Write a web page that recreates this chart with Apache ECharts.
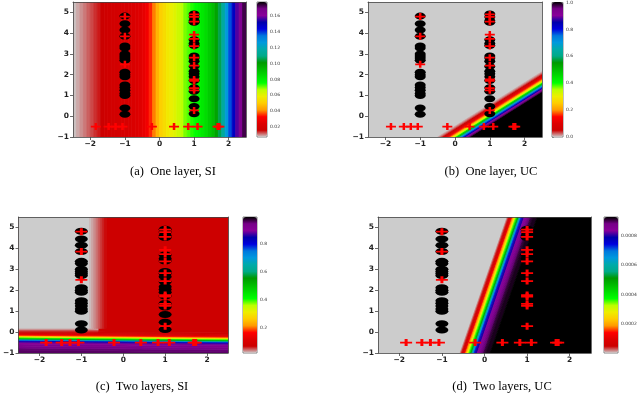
<!DOCTYPE html>
<html>
<head>
<meta charset="utf-8">
<script src="https://cdn.jsdelivr.net/npm/echarts@6.0.0/dist/echarts.min.js"></script>
<style>
  html, body { margin: 0; padding: 0; background: #fff; }
  #chart { width: 640px; height: 394px; }
</style>
</head>
<body>
<div id="chart"></div>
<script>
  // nipy_spectral, reversed: low values light gray, high values black
  const nipyR = ['#cccccc', '#cc0000', '#dd0000', '#ff0000', '#ff9900', '#ffcc00', '#eeee00',
    '#bbff00', '#00ff00', '#00dd00', '#00bb00', '#009900', '#00aa88', '#00aaaa', '#0099dd',
    '#0077dd', '#0000dd', '#0000aa', '#880099', '#770088', '#000000'];

  // training points, same in all four panels
  const circleLeftY = [4.82, 4.45, 4.15, 3.85, 3.38, 3.28, 3.0, 2.9, 2.8, 2.7, 2.12, 2.0, 1.9, 1.5, 1.38, 1.25, 1.1, 1.0, 0.4, 0.1];
  const circleRightY = [4.92, 4.78, 4.6, 4.52, 3.68, 3.5, 3.4, 2.9, 2.8, 2.65, 2.4, 2.17, 2.04, 1.9, 1.72, 1.37, 1.2, 0.84, 0.47, 0.12];
  const plusLeftY = [4.8, 3.85, 2.5];
  const plusRightY = [4.9, 4.78, 4.55, 3.93, 3.73, 3.38, 2.82, 2.44, 1.77, 1.7, 1.35, 1.25, 0.28];
  const plusBottomX = [-1.84, -1.47, -1.27, -1.07, -0.22, 0.42, 0.83, 1.1, 1.68, 1.73];

  const xTicks = [-2, -1, 0, 1, 2];
  const yTicks = [-1, 0, 1, 2, 3, 4, 5];

  // (a) one layer, SI: value changes with x only
  const siOneEdges = [-2.5, -2.4, -2.3, -2.2, -2.1, -2.0, -1.9, -1.8, -1.7, -1.6, -1.5, -1.4, -1.3, -1.2, -1.1,
    -1.0, -0.9, -0.8, -0.7, -0.6, -0.5, -0.4, -0.3, -0.2, -0.1, 0.0, 0.1, 0.2, 0.3, 0.4, 0.5, 0.6, 0.7,
    0.8, 0.9, 1.0, 1.1, 1.2, 1.3, 1.4, 1.5, 1.6, 1.7, 1.8, 1.9, 2.0, 2.1, 2.2, 2.3, 2.4, 2.5];
  const siOneValues = [0.008, 0.009, 0.010, 0.011, 0.012, 0.013, 0.014, 0.015, 0.016, 0.017,
    0.018, 0.019, 0.019, 0.020, 0.021, 0.021, 0.022, 0.023, 0.024, 0.025,
    0.027, 0.030, 0.035, 0.040, 0.046, 0.051, 0.054, 0.057, 0.059, 0.061,
    0.064, 0.067, 0.070, 0.072, 0.074, 0.076, 0.078, 0.081, 0.084, 0.088,
    0.092, 0.098, 0.106, 0.115, 0.126, 0.138, 0.148, 0.157, 0.165, 0.173];
  const siOneRange = [0.0075, 0.1775];
  const siOneTicks = [0.02, 0.04, 0.06, 0.08, 0.10, 0.12, 0.14, 0.16];

  // (b) one layer, UC: value changes across the line y = 1.05 x - 0.94
  const ucOneLine = [1.05, -0.94];
  const ucOneEdges = [-99, -0.5, -0.45, -0.4, -0.35, -0.3, -0.25, -0.2, -0.15, -0.1, -0.05, 0,
    0.05, 0.1, 0.15, 0.2, 0.25, 0.3, 0.35, 0.4, 0.45, 0.5, 99];
  const ucOneValues = [1.0, 0.97, 0.94, 0.9, 0.85, 0.78, 0.7, 0.6, 0.5, 0.42, 0.34, 0.28,
    0.22, 0.17, 0.13, 0.09, 0.065, 0.05, 0.035, 0.02, 0.01, 0.0];
  const ucOneRange = [0, 1];
  const ucOneTicks = [0, 0.2, 0.4, 0.6, 0.8, 1.0];

  // (c) two layers, SI: band across y = -0.018 x - 0.255, gray block at upper left
  const siTwoLine = [-0.018, -0.255];
  const siTwoEdges = [-99, -0.65, -0.55, -0.45, -0.36, -0.28, -0.22, -0.18, -0.15, -0.12, -0.09,
    -0.06, -0.03, 0, 0.03, 0.06, 0.1, 0.15, 0.2, 0.25, 99];
  const siTwoValues = [0.955, 0.95, 0.94, 0.925, 0.9, 0.87, 0.82, 0.75, 0.66, 0.56,
    0.47, 0.4, 0.33, 0.28, 0.22, 0.17, 0.12, 0.09, 0.075, 0.07];
  const siTwoGrayEdges = [-2.5, -0.8, -0.75, -0.7, -0.65, -0.6, -0.55, -0.5, -0.45, -0.4];
  const siTwoGrayValues = [0.02, 0.024, 0.029, 0.035, 0.041, 0.047, 0.054, 0.06, 0.066];
  const siTwoFloorEdges = [0.0, 0.06, 0.12, 0.18];
  const siTwoFloorValues = [0.062, 0.048, 0.032];
  const siTwoRange = [0.02, 0.99];
  const siTwoTicks = [0.2, 0.4, 0.6, 0.8];

  // (d) two layers, UC: value changes across the line x = 0.17 y - 0.2
  const ucTwoLine = [0.17, -0.2];
  const ucTwoEdges = [-99, -0.2, -0.175, -0.15, -0.125, -0.1, -0.075, -0.05, -0.025, 0, 0.025, 0.05,
    0.075, 0.1, 0.125, 0.15, 0.2, 0.25, 0.3, 0.35, 0.4, 0.5, 99];
  const ucTwoValues = [0, 0.00002, 0.00004, 0.00006, 0.00008, 0.00012, 0.00018, 0.00023, 0.00028, 0.00035,
    0.00042, 0.0005, 0.00058, 0.00066, 0.00073, 0.0008, 0.00084, 0.00087, 0.00089, 0.00091, 0.00092, 0.00093];
  const ucTwoRange = [0, 0.00093];
  const ucTwoTicks = [0.0002, 0.0004, 0.0006, 0.0008];

  function bands(edges, values, kind) {
    return values.map((v, k) => [edges[k], edges[k + 1], v, kind || 0]);
  }

  const panels = [
    {
      caption: '(a)  One layer, SI', cap: [173, 172],
      plot: [73, 2, 173, 135], bar: [257, 2, 10, 135],
      range: siOneRange, ticks: siOneTicks, digits: 2,
      circle: [11, 7], plus: [10, 7],
      data: bands(siOneEdges, siOneValues),
      corners: (u0, u1) => [[u0, -1], [u1, -1], [u1, 5.5], [u0, 5.5]]
    },
    {
      caption: '(b)  One layer, UC', cap: [491, 172],
      plot: [368, 2, 174, 135], bar: [552, 2, 11, 135],
      range: ucOneRange, ticks: ucOneTicks, digits: 1,
      circle: [11, 7], plus: [10, 7],
      data: bands(ucOneEdges, ucOneValues),
      corners: (u0, u1) => {
        const [m, c] = ucOneLine;
        return [[-2.5, -2.5 * m + c + u0], [2.5, 2.5 * m + c + u0], [2.5, 2.5 * m + c + u1], [-2.5, -2.5 * m + c + u1]];
      }
    },
    {
      caption: '(c)  Two layers, SI', cap: [142, 387],
      plot: [17, 217, 211, 136], bar: [243, 217, 14, 136],
      range: siTwoRange, ticks: siTwoTicks, digits: 1,
      circle: [13, 7], plus: [12, 7],
      data: bands(siTwoEdges, siTwoValues, 0)
        .concat(bands(siTwoFloorEdges, siTwoFloorValues, 2))
        .concat(bands(siTwoGrayEdges, siTwoGrayValues, 1)),
      corners: (u0, u1, kind) => {
        if (kind === 1) {
          const yb = siTwoFloorEdges[siTwoFloorEdges.length - 1];
          return [[u0, yb], [u1, yb], [u1, 5.5], [u0, 5.5]];
        }
        if (kind === 2) {
          return [[-2.5, u0], [-0.6, u0], [-0.6, u1], [-2.5, u1]];
        }
        const [m, c] = siTwoLine;
        return [[-2.5, -2.5 * m + c + u0], [2.5, 2.5 * m + c + u0], [2.5, 2.5 * m + c + u1], [-2.5, -2.5 * m + c + u1]];
      }
    },
    {
      caption: '(d)  Two layers, UC', cap: [502, 387],
      plot: [378, 217, 213, 136], bar: [604, 217, 14, 136],
      range: ucTwoRange, ticks: ucTwoTicks, digits: 4,
      circle: [13, 7], plus: [12, 7],
      data: bands(ucTwoEdges, ucTwoValues),
      corners: (u0, u1) => {
        const [m, c] = ucTwoLine;
        return [[-1 * m + c + u0, -1], [5.5 * m + c + u0, 5.5], [5.5 * m + c + u1, 5.5], [-1 * m + c + u1, -1]];
      }
    }
  ];

  const plusPath = 'path://M0,3H3V0H5V3H8V5H5V8H3V5H0Z';
  const minus = v => String(v).replace('-', '\u2212');
  const frame = {onZero: false, lineStyle: {color: '#444', width: 0.8}};
  const tickFont = {fontSize: 7.5, fontWeight: 'bold', fontFamily: 'DejaVu Sans', color: '#222'};

  const grids = [], xAxes = [], yAxes = [], series = [], visualMaps = [], graphics = [];

  panels.forEach((p, i) => {
    // main plot
    const g = grids.length;
    grids.push({left: p.plot[0], top: p.plot[1], width: p.plot[2], height: p.plot[3]});
    const xi = xAxes.length;
    xAxes.push({
      gridIndex: g, type: 'value', min: -2.5, max: 2.5, z: 10,
      axisLine: frame,
      axisTick: {customValues: xTicks, length: 3, lineStyle: {color: '#444', width: 0.8}},
      axisLabel: Object.assign({customValues: xTicks, formatter: minus, margin: 3}, tickFont),
      splitLine: {show: false}
    });
    xAxes.push({
      gridIndex: g, type: 'value', position: 'top', min: -2.5, max: 2.5, z: 10,
      axisLine: frame, axisTick: {show: false}, axisLabel: {show: false}, splitLine: {show: false}
    });
    const yi = yAxes.length;
    yAxes.push({
      gridIndex: g, type: 'value', min: -1, max: 5.5, z: 10,
      axisLine: frame,
      axisTick: {customValues: yTicks, length: 3, lineStyle: {color: '#444', width: 0.8}},
      axisLabel: Object.assign({customValues: yTicks, formatter: minus, margin: 4}, tickFont),
      splitLine: {show: false}
    });
    yAxes.push({
      gridIndex: g, type: 'value', position: 'right', min: -1, max: 5.5, z: 10,
      axisLine: frame, axisTick: {show: false}, axisLabel: {show: false}, splitLine: {show: false}
    });

    // colorbar axis
    const cg = grids.length;
    grids.push({left: p.bar[0], top: p.bar[1], width: p.bar[2], height: p.bar[3],
      show: true, borderColor: '#666', borderWidth: 0.8});
    xAxes.push({gridIndex: cg, type: 'value', show: false, min: 0, max: 1});
    yAxes.push({
      gridIndex: cg, type: 'value', position: 'right', min: p.range[0], max: p.range[1],
      axisLine: {show: false},
      axisTick: {customValues: p.ticks, length: 2, lineStyle: {color: '#555', width: 0.5}},
      axisLabel: {customValues: p.ticks, formatter: v => v.toFixed(p.digits), fontSize: 4.5,
        fontFamily: 'DejaVu Sans', color: '#333', margin: 3},
      splitLine: {show: false}
    });

    // decision field
    const si = series.length;
    series.push({
      type: 'custom', xAxisIndex: xi, yAxisIndex: yi, clip: true, silent: true,
      data: p.data,
      renderItem: function (params, api) {
        const pts = p.corners(api.value(0), api.value(1), api.value(3));
        const color = api.visual('color');
        return {
          type: 'polygon', z2: params.dataIndex,
          shape: {points: pts.map(q => api.coord(q))},
          style: {fill: color, stroke: color, lineWidth: 0.8}
        };
      }
    });
    visualMaps.push({
      type: 'continuous', seriesIndex: si, dimension: 2, min: p.range[0], max: p.range[1],
      calculable: false, orient: 'vertical', left: p.bar[0], top: p.bar[1],
      itemWidth: p.bar[2], itemHeight: p.bar[3], padding: 0,
      inRange: {color: nipyR}
    });

    // points
    series.push({
      type: 'scatter', xAxisIndex: xi, yAxisIndex: yi, silent: true, z: 3,
      symbol: 'circle', symbolSize: p.circle, itemStyle: {color: '#000', opacity: 1},
      data: circleLeftY.map(y => [-1, y]).concat(circleRightY.map(y => [1, y]))
    });
    series.push({
      type: 'scatter', xAxisIndex: xi, yAxisIndex: yi, silent: true, z: 4,
      symbol: plusPath, symbolSize: p.plus, itemStyle: {color: '#ff0000', opacity: 1},
      data: plusLeftY.map(y => [-1, y]).concat(plusRightY.map(y => [1, y]))
        .concat(plusBottomX.map(x => [x, -0.5]))
    });

    graphics.push({
      type: 'text', x: p.cap[0], y: p.cap[1],
      style: {text: p.caption, font: '12.5px "Liberation Serif"', fill: '#000',
        align: 'center', verticalAlign: 'middle'}
    });
  });

  const chart = echarts.init(document.getElementById('chart'));
  chart.setOption({
    animation: false,
    grid: grids,
    xAxis: xAxes,
    yAxis: yAxes,
    visualMap: visualMaps,
    series: series,
    graphic: graphics
  });
</script>
</body>
</html>
